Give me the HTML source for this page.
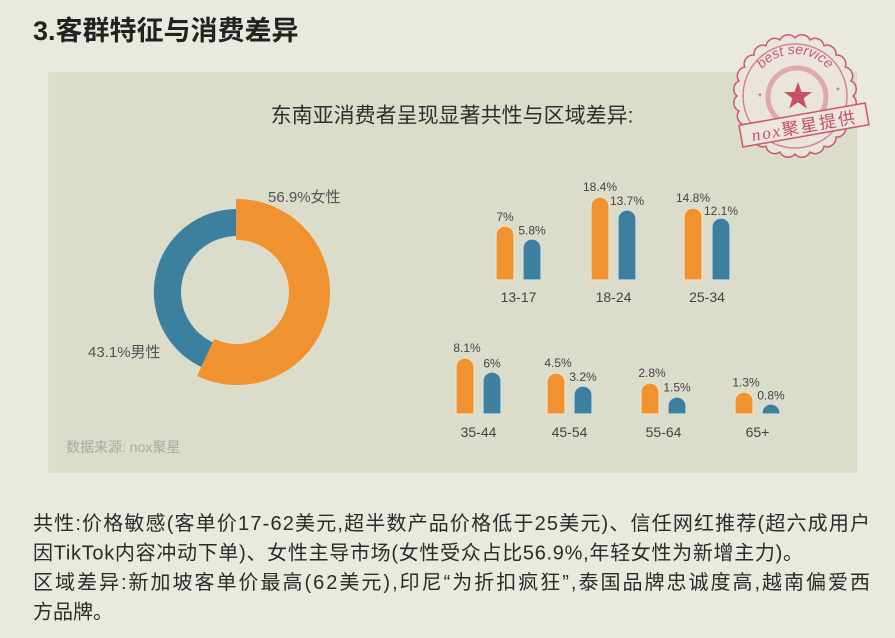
<!DOCTYPE html>
<html><head><meta charset="utf-8"><style>
html,body{margin:0;padding:0;background:#e9e9df;}
svg{display:block;}
text{font-family:"Liberation Sans","Noto Sans CJK SC",sans-serif;}
</style></head><body>
<svg width="895" height="638" viewBox="0 0 895 638" xmlns="http://www.w3.org/2000/svg">
<rect width="895" height="638" fill="#e9e9df"/>
<!-- title -->
<text x="33" y="40" font-size="27" font-weight="bold" fill="#222">3.客群特征与消费差异</text>
<!-- panel -->
<rect x="48" y="72" width="809" height="401" fill="#dcdccb"/>
<line x1="50" y1="72" x2="50" y2="473" stroke="#e6e6d8" stroke-width="1"/>
<line x1="53" y1="72" x2="53" y2="473" stroke="#e3e3d4" stroke-width="1"/>
<line x1="55.5" y1="72" x2="55.5" y2="473" stroke="#e1e1d2" stroke-width="1"/>
<text x="452" y="122.5" font-size="21" text-anchor="middle" fill="#2e2e2e">东南亚消费者呈现显著共性与区域差异:</text>

<!-- donut -->
<path d="M205.9,369 A83,83 0 0 1 238.4,209 L238,236 A56,56 0 0 0 216,343.9 Z" fill="#3c7f9e"/>
<path d="M237,200 A92,92 0 1 1 198.4,375.5 L214.8,340.1 A53,53 0 1 0 237,239 Z" fill="#f0922f" stroke="#f0922f" stroke-width="2" stroke-linejoin="round"/>
<text x="268" y="202" font-size="15" fill="#555">56.9%女性</text>
<text x="88" y="357" font-size="15" fill="#555">43.1%男性</text>

<!-- bars -->
<g stroke-width="1.2">
<g fill="#f0922f" stroke="#efe2c6">
<path d="M496,280 V235 A9,9 0 0 1 514,235 V280 Z"/>
<path d="M591,280 V206 A9,9 0 0 1 609,206 V280 Z"/>
<path d="M684,280 V217 A9,9 0 0 1 702,217 V280 Z"/>
<path d="M456,414 V367 A9,9 0 0 1 474,367 V414 Z"/>
<path d="M547,414 V382 A9,9 0 0 1 565,382 V414 Z"/>
<path d="M641,414 V392 A9,9 0 0 1 659,392 V414 Z"/>
<path d="M735,414 V401 A9,9 0 0 1 753,401 V414 Z"/>
</g>
<g fill="#3c7f9e" stroke="#cfdfe2">
<path d="M523,280 V248 A9,9 0 0 1 541,248 V280 Z"/>
<path d="M618,280 V219 A9,9 0 0 1 636,219 V280 Z"/>
<path d="M712,280 V227 A9,9 0 0 1 730,227 V280 Z"/>
<path d="M483,414 V381 A9,9 0 0 1 501,381 V414 Z"/>
<path d="M574,414 V395 A9,9 0 0 1 592,395 V414 Z"/>
<path d="M668,414 V406 A9,9 0 0 1 686,406 V414 Z"/>
<path d="M762,414 V413 A9,9 0 0 1 780,413 V414 Z"/>
</g>
</g>
<g font-size="12" fill="#444" text-anchor="middle">
<text x="505" y="221">7%</text>
<text x="532" y="234.5">5.8%</text>
<text x="600" y="191">18.4%</text>
<text x="627" y="205">13.7%</text>
<text x="693" y="202">14.8%</text>
<text x="721" y="215">12.1%</text>
<text x="467" y="352">8.1%</text>
<text x="492" y="367.5">6%</text>
<text x="558" y="367">4.5%</text>
<text x="583" y="381">3.2%</text>
<text x="652" y="377">2.8%</text>
<text x="677" y="391.5">1.5%</text>
<text x="746" y="386.5">1.3%</text>
<text x="771" y="399.5">0.8%</text>
</g>
<g font-size="14" fill="#444" text-anchor="middle">
<text x="518.5" y="302">13-17</text>
<text x="613.5" y="302">18-24</text>
<text x="707" y="302">25-34</text>
<text x="478.5" y="437">35-44</text>
<text x="569.5" y="437">45-54</text>
<text x="663.5" y="437">55-64</text>
<text x="757.5" y="437">65+</text>
</g>
<text x="66" y="452" font-size="14" fill="#a9a9a0">数据来源: nox聚星</text>

<!-- stamp -->
<g opacity="0.9">
<path fill="#ebe6df" stroke="#c94a64" stroke-width="1.5" d="M853,96 A9,9 0 0 1 851.02,111.01 A9,9 0 0 1 845.23,125 A9,9 0 0 1 836.01,137.01 A9,9 0 0 1 824,146.23 A9,9 0 0 1 810.01,152.02 A9,9 0 0 1 795,154 A9,9 0 0 1 779.99,152.02 A9,9 0 0 1 766,146.23 A9,9 0 0 1 753.99,137.01 A9,9 0 0 1 744.77,125 A9,9 0 0 1 738.98,111.01 A9,9 0 0 1 737,96 A9,9 0 0 1 738.98,80.99 A9,9 0 0 1 744.77,67 A9,9 0 0 1 753.99,54.99 A9,9 0 0 1 766,45.77 A9,9 0 0 1 779.99,39.98 A9,9 0 0 1 795,38 A9,9 0 0 1 810.01,39.98 A9,9 0 0 1 824,45.77 A9,9 0 0 1 836.01,54.99 A9,9 0 0 1 845.23,67 A9,9 0 0 1 851.02,80.99 A9,9 0 0 1 853,96 Z"/>
<circle cx="795" cy="96" r="52" fill="none" stroke="#d27a8c" stroke-width="1.5"/>
<circle cx="797" cy="97" r="29" fill="none" stroke="#e0a2b0" stroke-width="5"/>
<path id="arc" d="M752,97 A43,43 0 0 1 838,97" fill="none"/>
<text font-size="14" fill="#c94a64" font-style="italic"><textPath href="#arc" startOffset="50%" text-anchor="middle">best service</textPath></text>
<polygon fill="#c8405a" points="798,82 801.6,92 812,92 803.6,98.2 806.8,108.5 798,102.3 789.2,108.5 792.4,98.2 784,92 794.4,92"/>
<text x="760" y="100" font-size="10" fill="#c94a64" text-anchor="middle">*</text>
<text x="838" y="94" font-size="10" fill="#c94a64" text-anchor="middle">*</text>
<g transform="rotate(-10 804 125)">
<rect x="740" y="114" width="128" height="22" fill="#ede6df" stroke="#c94a64" stroke-width="1.5"/>
<text x="804" y="132" font-size="17" fill="#c0405a" text-anchor="middle" letter-spacing="2"><tspan font-family="Liberation Serif" font-style="italic">nox</tspan>聚星提供</text>
</g>
</g>

<!-- body text -->
<g font-size="20" fill="#2b2b2b">
<text x="33" y="530" textLength="837" lengthAdjust="spacing">共性:价格敏感(客单价17-62美元,超半数产品价格低于25美元)、信任网红推荐(超六成用户</text>
<text x="33" y="559.5" textLength="770" lengthAdjust="spacing">因TikTok内容冲动下单)、女性主导市场(女性受众占比56.9%,年轻女性为新增主力)。</text>
<text x="33" y="589" textLength="837" lengthAdjust="spacing">区域差异:新加坡客单价最高(62美元),印尼“为折扣疯狂”,泰国品牌忠诚度高,越南偏爱西</text>
<text x="33" y="618.5">方品牌。</text>
</g>
</svg>
</body></html>
